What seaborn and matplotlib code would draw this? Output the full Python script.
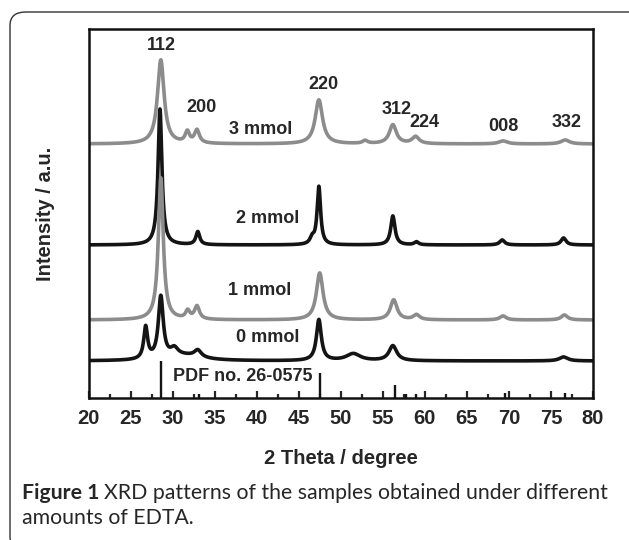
import numpy as np
import pandas as pd
import matplotlib
matplotlib.use("Agg")
from matplotlib import pyplot as plt
from matplotlib.patches import FancyBboxPatch
import seaborn as sns

# samples, drawn from the top trace down
samples = ["3 mmol", "2 mmol", "1 mmol", "0 mmol"]
offsets = [254, 153, 78, 37]
colors = ["#8c8c8c", "#141414", "#8c8c8c", "#141414"]

# peak lists: centre (deg), height (a.u.), fwhm (deg)
pos_3 = [28.6, 31.75, 32.9, 47.4, 52.9, 56.2, 58.9, 69.3, 76.7]
hgt_3 = [84, 11, 13, 44, 3, 19, 7, 3, 4]
fwhm_3 = [0.95, 0.6, 0.7, 1.05, 0.7, 1.0, 1.0, 1.2, 1.2]

pos_2 = [28.5, 33.0, 46.6, 47.4, 56.2, 59.0, 69.2, 76.5]
hgt_2 = [136, 13, 6, 58, 29, 3, 5, 7]
fwhm_2 = [0.55, 0.55, 0.6, 0.5, 0.6, 0.6, 0.7, 0.7]

pos_1 = [28.6, 31.8, 32.9, 47.5, 56.3, 59.0, 69.3, 76.6]
hgt_1 = [142, 8, 13, 47, 20, 5, 4, 5]
fwhm_1 = [0.7, 0.6, 0.7, 0.95, 0.95, 0.9, 0.9, 0.9]

pos_0 = [26.8, 28.6, 30.2, 31.5, 33.0, 47.4, 51.5, 56.2, 76.5]
hgt_0 = [32, 62, 8, 5, 7, 41, 7, 15, 4]
fwhm_0 = [0.55, 0.7, 1.1, 5.0, 1.0, 0.7, 2.0, 1.1, 1.2]

peaks = [(pos_3, hgt_3, fwhm_3), (pos_2, hgt_2, fwhm_2),
         (pos_1, hgt_1, fwhm_1), (pos_0, hgt_0, fwhm_0)]

# reference pattern PDF no. 26-0575
pdf_pos = [28.6, 33.1, 47.5, 56.5, 57.8, 59.0, 69.5, 76.7]
pdf_int = [37, 4, 25, 13, 4, 4, 5, 5]

hkl = ["112", "200", "220", "312", "224", "008", "332"]


def pattern(x, pos, hgt, fwhm):
    y = np.zeros_like(x)
    for c, h, w in zip(pos, hgt, fwhm):
        y += h / (1 + ((x - c) / (w / 2)) ** 2)
    return y


theta = np.linspace(20, 80, 3001)
frames = []
for name, off, (p, h, w) in zip(samples, offsets, peaks):
    frames.append(pd.DataFrame({"theta": theta,
                                "intensity": off + pattern(theta, p, h, w),
                                "sample": name}))
df = pd.concat(frames)

sns.set_style("ticks")
plt.rcParams["font.family"] = ["Liberation Sans", "DejaVu Sans"]

fig = plt.figure(figsize=(6.29, 5.40), dpi=100)
ax = fig.add_axes([0.1407, 0.2630, 0.802, 0.6833])

for name, col in zip(samples, colors):
    sns.lineplot(data=df[df["sample"] == name], x="theta", y="intensity",
                 color=col, linewidth=2.6, ax=ax, legend=False)

ax.vlines(pdf_pos, 0, pdf_int, color="#141414", linewidth=1.7)

ax.set_xlim(20, 80)
ax.set_ylim(0, 369)
ax.set_xticks(np.arange(20, 81, 5))
ax.set_xticks(np.arange(20, 81, 2.5), minor=True)
ax.set_yticks([])
ax.tick_params(axis="x", which="major", direction="in", length=5, width=1.6,
               labelsize=14.5, pad=8)
ax.tick_params(axis="x", which="minor", direction="in", length=3, width=1.6)
for lab in ax.get_xticklabels():
    lab.set_fontweight("bold")
for s in ax.spines.values():
    s.set_linewidth(1.8)
    s.set_color("#111111")

ax.set_xlabel("2 Theta / degree", fontsize=14.5, fontweight="bold", labelpad=15)
ax.set_ylabel("Intensity / a.u.", fontsize=14.5, fontweight="bold", labelpad=24)

tk = dict(fontsize=13, fontweight="bold", ha="center", va="center")
ax.text(28.7, 352, hkl[0], **tk)
ax.text(33.4, 290, hkl[1], **tk)
ax.text(47.9, 313, hkl[2], **tk)
ax.text(56.6, 288, hkl[3], **tk)
ax.text(60.0, 275, hkl[4], **tk)
ax.text(69.3, 271, hkl[5], **tk)
ax.text(76.9, 275, hkl[6], **tk)
for name, xx, yy in zip(samples, [40.5, 41.3, 40.4, 41.3], [268, 179, 107, 60]):
    ax.text(xx, yy, name, **tk)
ax.text(38.3, 21, "PDF no. 26-0575", **tk)

# caption and rounded frame
cap = ["Lato", "DejaVu Sans"]
t1 = fig.text(22 / 629, 1 - 493 / 540, "Figure 1", fontsize=15.3, fontweight="bold",
              family=cap, va="center")
fig.canvas.draw()
bb = t1.get_window_extent()
fig.text((bb.x1 + 5) / 629, 1 - 493 / 540,
         "XRD patterns of the samples obtained under different",
         fontsize=15.3, family=cap, va="center")
fig.text(22 / 629, 1 - 518 / 540, "amounts of EDTA.", fontsize=15.3, family=cap,
         va="center")

frame = FancyBboxPatch((10 / 629, 1 - 550 / 540), 640 / 629, 538 / 540,
                       boxstyle="round,pad=0,rounding_size=0.025",
                       transform=fig.transFigure, fill=False,
                       edgecolor="#333333", linewidth=1.0, clip_on=False)
fig.patches.append(frame)

fig.savefig("out.png", dpi=100)
